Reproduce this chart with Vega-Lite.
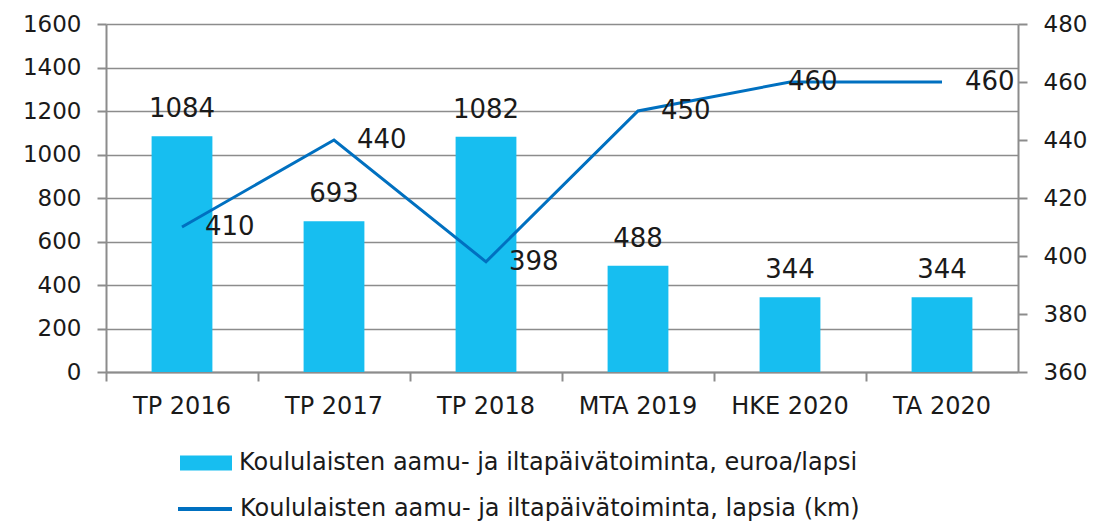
{
  "$schema": "https://vega.github.io/schema/vega-lite/v6.json",
  "width": 912,
  "height": 348,
  "autosize": {"type": "none"},
  "padding": {"left": 106, "top": 24, "right": 81, "bottom": 155},
  "background": "white",
  "config": {
    "font": "DejaVu Sans",
    "view": {"stroke": null},
    "axis": {
      "labelFont": "DejaVu Sans",
      "labelFontSize": 23,
      "labelColor": "#1a1a1a",
      "domainColor": "#8c8c8c",
      "tickColor": "#8c8c8c",
      "domainWidth": 2,
      "tickWidth": 2,
      "gridColor": "#8c8c8c",
      "gridWidth": 1.5
    },
    "legend": {"labelFont": "DejaVu Sans", "labelFontSize": 24, "labelColor": "#1a1a1a", "labelLimit": 900, "padding": 0}
  },
  "data": {
    "values": [
      {"cat": "TP 2016", "euro": 1084, "lapsia": 410},
      {"cat": "TP 2017", "euro": 693, "lapsia": 440},
      {"cat": "TP 2018", "euro": 1082, "lapsia": 398},
      {"cat": "MTA 2019", "euro": 488, "lapsia": 450},
      {"cat": "HKE 2020", "euro": 344, "lapsia": 460},
      {"cat": "TA 2020", "euro": 344, "lapsia": 460}
    ]
  },
  "layer": [
    {
      "layer": [
        {
          "mark": {"type": "bar", "width": {"band": 0.4}},
          "encoding": {
            "x": {
              "field": "cat", "type": "nominal", "sort": null,
              "scale": {"paddingInner": 0, "paddingOuter": 0},
              "axis": {"title": null, "labelAngle": 0, "bandPosition": 0, "labelFontSize": 24, "tickSize": 9, "labelPadding": 13, "grid": false}
            },
            "y": {
              "field": "euro", "type": "quantitative",
              "scale": {"domain": [0, 1600], "nice": false},
              "axis": {"orient": "left", "title": null, "values": [0, 200, 400, 600, 800, 1000, 1200, 1400, 1600], "format": "d", "tickSize": 9, "labelPadding": 16, "grid": true}
            },
            "fill": {
              "datum": "Koululaisten aamu- ja iltapäivätoiminta, euroa/lapsi",
              "scale": {"range": ["#17BEF0"]},
              "legend": {"orient": "none", "legendX": 74, "legendY": 413, "title": null, "symbolType": "M-1,-0.29H1V0.29H-1Z", "symbolSize": 2704, "symbolStrokeWidth": 0, "labelOffset": 7}
            }
          }
        },
        {
          "mark": {"type": "text", "baseline": "alphabetic", "dy": -19, "fontSize": 26, "color": "#1a1a1a"},
          "encoding": {
            "x": {"field": "cat", "type": "nominal", "sort": null},
            "y": {"field": "euro", "type": "quantitative"},
            "text": {"field": "euro", "type": "quantitative", "format": "d"}
          }
        }
      ]
    },
    {
      "layer": [
        {
          "mark": {"type": "line", "strokeWidth": 3},
          "encoding": {
            "x": {"field": "cat", "type": "nominal", "sort": null},
            "y": {
              "field": "lapsia", "type": "quantitative",
              "scale": {"domain": [360, 480], "nice": false, "zero": false},
              "axis": {"orient": "right", "title": null, "values": [360, 380, 400, 420, 440, 460, 480], "tickSize": 9, "labelPadding": 16, "grid": false}
            },
            "stroke": {
              "datum": "Koululaisten aamu- ja iltapäivätoiminta, lapsia (km)",
              "scale": {"range": ["#0070C0"]},
              "legend": {"orient": "none", "legendX": 72, "legendY": 458, "title": null, "symbolType": "M-1,-0.07H1V0.07H-1Z", "symbolSize": 2916, "symbolFillColor": "#0070C0", "symbolStrokeWidth": 0, "labelOffset": 8}
            }
          }
        },
        {
          "transform": [{"filter": "datum.cat !== 'HKE 2020'"}],
          "mark": {"type": "text", "align": "left", "baseline": "middle", "dx": 23, "fontSize": 26, "color": "#1a1a1a"},
          "encoding": {
            "x": {"field": "cat", "type": "nominal", "sort": null},
            "y": {"field": "lapsia", "type": "quantitative"},
            "text": {"field": "lapsia", "type": "quantitative", "format": "d"}
          }
        },
        {
          "transform": [{"filter": "datum.cat === 'HKE 2020'"}],
          "mark": {"type": "text", "align": "left", "baseline": "middle", "dx": -2, "fontSize": 26, "color": "#1a1a1a"},
          "encoding": {
            "x": {"field": "cat", "type": "nominal", "sort": null},
            "y": {"field": "lapsia", "type": "quantitative"},
            "text": {"field": "lapsia", "type": "quantitative", "format": "d"}
          }
        }
      ]
    }
  ],
  "resolve": {"scale": {"y": "independent"}}
}
